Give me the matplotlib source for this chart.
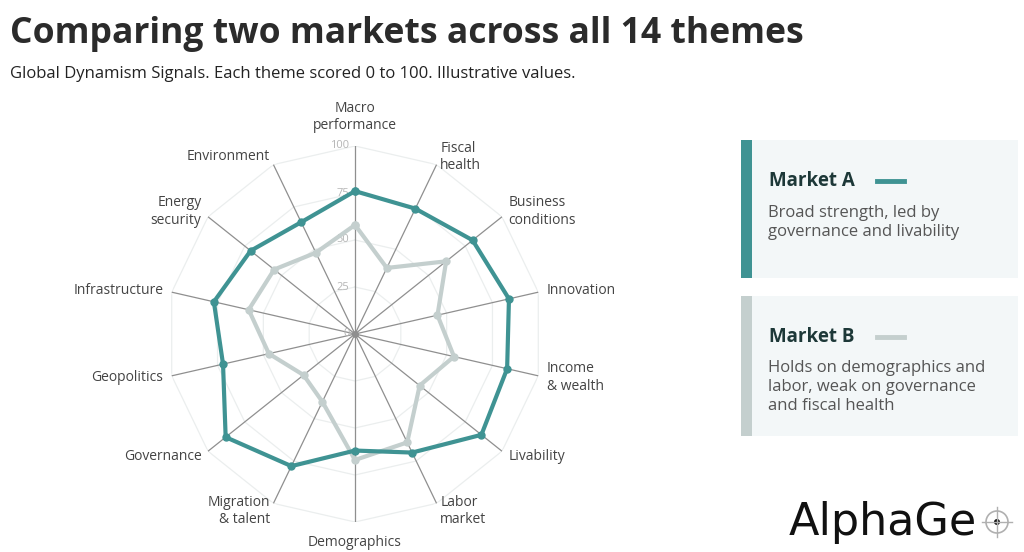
import numpy as np
import matplotlib
matplotlib.use("Agg")
import matplotlib.pyplot as plt
from matplotlib.patches import Rectangle, Circle
from matplotlib.lines import Line2D

plt.rcParams['font.family'] = ['Open Sans', 'DejaVu Sans']

themes = ["Macro\nperformance", "Fiscal\nhealth", "Business\nconditions", "Innovation",
          "Income\n& wealth", "Livability", "Labor\nmarket", "Demographics",
          "Migration\n& talent", "Governance", "Geopolitics", "Infrastructure",
          "Energy\nsecurity", "Environment"]
market_a = [76, 74, 80, 84, 83, 86, 70, 62, 78, 88, 72, 77, 71, 66]
market_b = [58, 39, 62, 45, 54, 44, 64, 67, 40, 35, 47, 58, 55, 48]
ticks = [0, 25, 50, 75, 100]

teal = "#3f9393"
grey = "#c4cfce"
W, H = 1024, 552

fig = plt.figure(figsize=(W / 100, H / 100), dpi=100)
fig.patch.set_facecolor("white")

def fx(x):
    return x / W

def fy(y):
    return 1 - y / H

# radar axes, centre ~ (355,334), radius ~188px
ax = fig.add_axes([fx(167), fy(334 + 188), 376 / W, 376 / H], projection="polar")
ax.set_theta_zero_location("N")
ax.set_theta_direction(-1)
ax.set_ylim(0, 100)
ax.grid(False)
ax.spines["polar"].set_visible(False)
ax.set_xticks([])
ax.set_yticks([])
ax.patch.set_alpha(0)

n = len(themes)
theta = np.linspace(0, 2 * np.pi, n, endpoint=False)
tc = np.append(theta, theta[0])

# rings
for t in ticks[1:]:
    ax.plot(tc, [t] * (n + 1), color="#ebeeee", lw=0.9, zorder=1)
# spokes
for t in theta:
    ax.plot([t, t], [0, 100], color="#8f8f8f", lw=0.9, zorder=2)
ax.plot([0], [0], "o", color="#8f8f8f", ms=4, zorder=2)

# radial tick labels
for t in ticks:
    ax.annotate(str(t), xy=(0, t), xytext=(-4, 0), textcoords="offset points",
                ha="right", va="center", fontsize=8, color="#b5b5b5", zorder=3)

ax.plot(tc, market_b + market_b[:1], color=grey, lw=3, zorder=4,
        marker="o", ms=5, solid_joinstyle="round")
ax.plot(tc, market_a + market_a[:1], color=teal, lw=3, zorder=5,
        marker="o", ms=5, solid_joinstyle="round")

# theme labels
for t, lab in zip(theta, themes):
    s, c = np.sin(t), np.cos(t)
    if s > 0.1:
        ha = "left"
    elif s < -0.1:
        ha = "right"
    else:
        ha = "center"
    dy = 0
    if c > 0.95:
        va = "bottom"
        dy = 3
    elif c < -0.95:
        va = "top"
        dy = -3
    else:
        va = "center"
    ax.annotate(lab, xy=(t, 104.5), xytext=(0, dy), textcoords="offset points",
                ha=ha, va=va, fontsize=10, color="#444444",
                linespacing=1.25, annotation_clip=False)

# title
fig.text(fx(10), fy(34), "Comparing two markets across all 14 themes",
         fontsize=25.6, fontweight="bold", color="#2b2b2b", va="center")
fig.text(fx(10), fy(74), "Global Dynamism Signals. Each theme scored 0 to 100. Illustrative values.",
         fontsize=12, color="#222222", va="center")

# legend cards
cards = [
    (140, 278, teal, "Market A", ["Broad strength, led by", "governance and livability"], 181, 213),
    (296, 436, grey, "Market B", ["Holds on demographics and", "labor, weak on governance",
                                  "and fiscal health"], 337, 368),
]
for top, bot, col, name, desc, ny, dy in cards:
    fig.add_artist(Rectangle((fx(741), fy(bot)), (1018 - 741) / W, (bot - top) / H,
                             transform=fig.transFigure, facecolor="#f3f7f8", edgecolor="none"))
    fig.add_artist(Rectangle((fx(741), fy(bot)), 11 / W, (bot - top) / H,
                             transform=fig.transFigure, facecolor=col, edgecolor="none"))
    fig.text(fx(769), fy(ny), name, fontsize=13.5, fontweight="bold", color="#1d3838", va="center")
    fig.add_artist(Line2D([fx(877), fx(904)], [fy(ny), fy(ny)], color=col, lw=3.5,
                          transform=fig.transFigure))
    for i, line in enumerate(desc):
        fig.text(fx(768), fy(dy + 19 * i), line, fontsize=12, color="#555555", va="center")

# logo
fig.text(fx(789), fy(535), "AlphaGe", fontsize=32, color="#111111", va="baseline",
         family=["DejaVu Sans"])
lx, ly = 997, 522
fig.add_artist(Circle((lx, H - ly), 11, transform=None, facecolor="none",
                      edgecolor="#b0b0b0", lw=1.2))
fig.add_artist(Line2D([fx(lx - 15), fx(lx + 15)], [fy(ly), fy(ly)], color="#b0b0b0", lw=1,
                      transform=fig.transFigure))
fig.add_artist(Line2D([fx(lx), fx(lx)], [fy(ly - 15), fy(ly + 15)], color="#b0b0b0", lw=1,
                      transform=fig.transFigure))
fig.add_artist(Circle((lx, H - ly), 3, transform=None, facecolor="#111111", edgecolor="none"))

fig.savefig("out.png", dpi=100)
